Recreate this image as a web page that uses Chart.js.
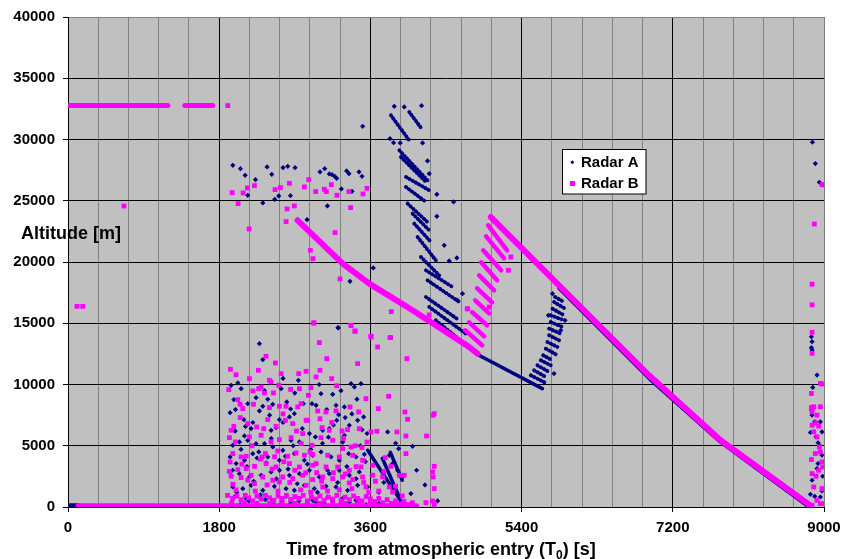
<!DOCTYPE html>
<html><head><meta charset="utf-8">
<script src="https://cdn.jsdelivr.net/npm/chart.js@4"></script>
<style>html,body{margin:0;padding:0;background:#fff}#wrap{width:853px;height:559px;position:relative}</style>
</head><body><div id="wrap"><canvas id="c"></canvas></div>
<script>
// ---------------- DATA ----------------
const seriesNames = ['Radar A', 'Radar B'];
const xMajorTicks = [0, 1800, 3600, 5400, 7200, 9000];
const yTickValues = [0, 5000, 10000, 15000, 20000, 25000, 30000, 35000, 40000];
const xTitleParts = ['Time from atmospheric entry (T', '0', ') [s]'];
const yTitle = 'Altitude [m]';

// Radar A scattered detections [time s, altitude m]
const radarA_points = [
 [1962,27894],[2053,27622],[2109,27078],[2232,26724],[2140,25445],[2319,24820],[2370,27758],[2426,27160],[2560,27704],[2616,27813],
 [2703,27704],[2509,25391],[2461,25119],[2648,25418],[2846,23459],[3000,27350],[3056,27622],[3111,27187],[3143,27132],[3175,26996],
 [3199,26833],[3088,24575],[3254,25962],[3317,27432],[3345,27214],[3381,25772],[3464,27350],[3500,26996],[3634,19514],[3357,18425],[3218,14616],
 [3884,32710],[4003,32656],[4209,32764],[3508,31077],[3833,30071],[4221,29717],[4280,28248],[4300,27214],[4391,25527],[4590,24901],
 [4391,23731],[4538,20085],[4629,20330],[4479,21363],[4697,17418],[4637,16874],[3876,29744],[3955,29717],
 [5786,10888],[5866,14425],[5917,15241],[5719,15649],[5767,17418],
 [2279,13336],[2319,12030],[3214,14642],[2743,10343],[1942,9935],[2022,10126],[2061,9663],[1974,8765],[2140,8438],[2239,8928],
 [1930,7704],[1994,7949],[2093,7132],[2113,6588],[2180,6398],[2279,7840],[2319,8221],[2378,8792],[2438,8384],[2537,9663],
 [2604,8575],[2517,7132],[2477,6479],[2418,6262],[2636,7350],[2695,7622],[2802,8438],[2905,8438],[2953,8302],[3012,9255],
 [3080,7949],[3151,9200],[3191,8302],[3222,7540],[3290,8166],[3369,10071],[3409,9799],[3488,10071],[3520,7350],[3448,7078],
 [3349,6670],[3290,5854],[3199,7078],[3111,6398],[3032,6262],[2945,5718],[2874,5990],[2755,5309],[2656,5445],[2557,4629],
 [2438,4901],[2339,5173],[2239,5173],[2140,5445],[2041,5309],[1962,5037],[1930,4085],[2002,3541],[2101,3813],[2200,4357],
 [2271,4493],[2378,4085],[2517,3813],[2588,4139],[2695,4357],[2814,3813],[2913,4221],[3012,4493],[3131,4085],[3230,3813],
 [3341,4357],[3428,4085],[3528,4302],[1942,2588],[2041,2724],[2160,2452],[2299,2588],[2418,2860],[2517,2996],[2636,2588],
 [2755,2724],[2874,2996],[2992,2452],[3111,2724],[3230,2996],[3349,2588],[3468,2860],[1962,1636],[2081,1500],[2180,1772],
 [2319,1364],[2457,1691],[2596,1500],[2695,1364],[2814,1772],[2933,1500],[3072,1691],[3191,1636],[3329,1364],[3448,1772],
 [3567,1636],[1982,820],[2121,684],[2279,820],[2438,548],[2596,874],[2755,684],[2913,548],[3092,820],[3270,684],[3428,548],
 [3805,6126],[3936,4765],[4102,4956],[4082,1092],[3825,4221],[3924,2996],[3983,2452],[3864,3541],
 [1990,6200],[2060,4700],[2130,3300],[2210,2100],[2290,1000],[2360,3600],[2420,5600],[2480,2300],[2560,6900],[2620,3100],
 [2680,5000],[2730,1900],[2790,6400],[2850,3500],[2890,4700],[2970,1200],[3030,5200],[3090,3000],[3160,6700],[3210,2000],
 [3270,5300],[3320,3300],[3380,7600],[3430,2300],[3480,5000],[3540,3700],[3560,6000],[2010,1200],[2200,6900],[2340,9500],
 [2560,10500],[2700,9300],[2990,10000],[3250,9500],[3440,8800],[1960,3000],[2100,5800],[2250,4000],[2400,7500],[2650,8000],
 [3100,5700],[3300,7300],[3500,6300],[3620,2600],[3700,1200],[3760,2000],[3900,5200],[4150,3000],[4250,1800],[4400,500],
 [1950,400],[2050,200],[2150,500],[2250,300],[2350,600],[2450,200],[2550,400],[2650,300],[2750,500],[2850,200],
 [2950,400],[3050,300],[3150,500],[3250,200],[3350,400],[3450,300],[3550,200],[3700,300],[3850,150],[4000,150],
 [8862,29780],[8897,28035],[8945,26510],[8850,13900],[8858,13500],[8850,13010],[8858,12820],[8917,10770],[8866,9760],[8850,7910],
 [8858,7500],[8890,6954],[8957,6954],[8976,6136],[8838,6081],[8905,5727],[8929,5236],[8945,5045],[8976,4227],[8929,3545],
 [8984,2509],[8858,2182],[8917,3136],[8838,1036],[8890,873],[8957,818],[8976,1309]
];

// Radar B scattered detections [time s, altitude m]
const radarB_points = [
 [107,16380],[175,16380],[666,24570],[1902,32767],
 [1954,25663],[2025,24765],[2085,25636],[2136,26044],[2220,26234],[2156,22697],[2465,25908],[2529,26071],[2636,26425],[2608,24330],
 [2695,24575],[2596,23296],[2814,26126],[2866,26724],[2949,25745],[3052,25935],[3076,25745],[3135,26316],[3202,25445],[3345,25745],
 [3365,24439],[3512,25554],[3559,26017],[3179,22398],[2885,20956],[2917,20275],[3238,18616],[2929,15024],[3369,14806],[3417,14371],
 [3607,13881],[3841,13827],[3849,15949],[4300,15677],[4752,16166],
 [5272,20408],[5243,19322],[5014,16327],[4756,16196],
 [1934,11241],[2267,11159],[2358,12302],[2469,11758],[2537,10887],[2160,10479],[2398,10343],[2418,10207],[2747,10887],[2834,11078],
 [2953,10615],[3000,11159],[2992,13418],[2925,15023],[3369,14833],[3417,14343],[3607,13935],[3833,13826],[3686,13064],[3448,11704],
 [3080,12112],[3139,10479],[4035,12112],[1914,9581],[2200,9472],[2271,9663],[2339,9309],[2446,9309],[2509,9935],[2755,9663],
 [2893,9744],[2862,9119],[2022,8765],[2049,8384],[2081,8030],[2208,8384],[2398,8112],[2517,8221],[2596,8221],[2735,8166],
 [2775,8438],[2834,7078],[2973,7840],[3072,7758],[3191,7840],[3357,8166],[3460,7758],[3547,8847],[3694,8030],[3817,9037],
 [4011,7758],[4043,7160],[1942,6262],[1974,6588],[2140,6806],[2247,6534],[2378,7132],[2477,6588],[2588,7078],[2675,6806],
 [2794,5990],[2854,7078],[3024,6479],[3111,6262],[3262,6207],[3329,6316],[3468,6398],[3607,6126],[3678,6180],[3916,6126],
 [4023,5799],[4269,5799],[4348,7486],[4360,7620],[1922,5663],[1994,5309],[2160,5718],[2299,5854],[2418,5309],[2517,5500],
 [2656,5663],[2775,5173],[2905,5037],[3012,5663],[3151,5445],[3270,4765],[3369,4901],[3500,4847],[1962,4357],[2061,4085],
 [2121,4139],[2311,4085],[2350,4357],[2497,4575],[2616,4139],[2715,4411],[2814,4221],[2913,4302],[2953,3541],[3092,4221],
 [3230,4085],[3389,4221],[3508,3813],[1930,3677],[2022,3051],[2121,3133],[2220,3323],[2358,3541],[2477,3269],[2636,3541],
 [2755,3269],[2913,3405],[3072,3269],[3210,3269],[3349,2996],[3488,3269],[3627,3405],[3777,4030],[3845,3323],[3944,2588],
 [4003,2588],[4023,4357],[4360,3323],[4348,2452],[4360,1500],[4340,2857],[4340,500],[4360,200],[4261,359],
 [1942,2507],[2061,2398],[2180,2588],[2319,2452],[2438,2180],[2557,2452],[2675,2316],[2794,2588],[2913,2235],[3032,2452],
 [3151,2316],[3270,2452],[3389,2235],[3508,2452],[3627,2588],[3745,2452],[1962,1854],[2220,1908],[2517,2044],[2834,1772],
 [3032,1636],[3349,1963],[3547,1636],[3825,1636],[3864,1228],
 [1920,2900],[2000,1400],[2070,3500],[2140,2200],[2230,1300],[2290,3900],[2370,1800],[2430,3100],[2500,1300],[2570,3700],
 [2640,2000],[2700,3000],[2770,1400],[2830,2800],[2890,1200],[2960,2800],[3020,2100],[3090,1300],[3160,2800],[3230,1400],
 [3300,2700],[3380,1500],[3430,3300],[3520,2000],[3580,1200],[3660,2100],[3700,1300],[3760,2900],[3900,1700],[3980,900],
 [2050,7300],[2190,5000],[2330,6400],[2460,4100],[2560,7600],[2720,6200],[2880,4500],[3000,7200],[3140,6900],[3280,5600],
 [3420,5000],[3560,5300],[2000,10800],[2300,9800],[2650,9600],[3200,9900],
 [1900,950],[1960,700],[2010,900],[2060,600],[2110,950],[2150,750],[2200,500],[2250,900],[2300,650],[2350,950],
 [2400,750],[2450,550],[2500,900],[2550,700],[2600,950],[2650,600],[2700,850],[2750,700],[2800,950],[2850,500],
 [2900,800],[2950,650],[3000,900],[3050,550],[3100,800],[3150,650],[3200,950],[3250,500],[3300,800],[3350,600],
 [3400,900],[3450,700],[3500,500],[3550,850],[3600,650],[3650,450],[3700,700],[3750,350],[3800,600],[3850,300],
 [3900,500],[3950,250],[4000,450],[4050,200],[4100,350],[1950,300],[2100,350],[2250,250],[2400,300],[2550,250],
 [2700,300],[2850,250],[3000,300],[3150,250],[3300,300],[3450,250],[3600,300],
 [8976,26320],[8996,26290],[8885,23100],[8858,18190],[8858,16500],[8858,14260],[8858,12545],[8957,10090],[8976,10035],[8850,9270],
 [8850,8127],[8878,8181],[8957,8181],[8858,7772],[8917,7500],[8858,6681],[8905,6872],[8937,6600],[8878,6136],[8917,5727],
 [8945,4909],[8850,3872],[8897,4363],[8957,4500],[8976,3681],[8858,2727],[8905,2509],[8937,3000],[8984,3272],[8878,1636],
 [8976,1500],[8917,545],[8957,273],[8996,273],[8858,136]
];

// Continuous runs of detections (polylines of [time, altitude])
const radarA_baseline = [[[0,100],[120,100]]];
const radarA_tracks = [
 [[4600,13950],[4875,12450],[5647,9665]],
 [[5846,17850],[6916,10500],[7768,5300],[8820,0]],
 [[3568,4629],[3983,278]],[[3742,3976],[3945,792]],[[3837,4465],[3979,2180]]
];
const radarA_stripes = [
 [[3844,31975],[4062,29935]],[[4062,32247],[4201,30968]],[[3944,29118],[4280,26669]],[[3963,28574],[4261,26533]],
 [[4023,26941],[4300,25853]],[[4023,26125],[4261,24901]],[[4043,24765],[4300,23132]],[[4102,23948],[4300,22588]],
 [[4122,23132],[4320,21635]],[[4162,22044],[4379,20139]],[[4201,20411],[4419,18914]],[[4261,19323],[4578,17962]],
 [[4280,18506],[4657,16738]],[[4261,17146],[4657,15241]],[[4300,16330],[4736,14153]],[[4379,15241],[4815,12792]],
 [[5509,10752],[5687,10126]],[[5549,11160],[5687,10616]],[[5588,11568],[5727,11024]],[[5628,11976],[5747,11568]],
 [[5656,12384],[5767,11976]],[[5687,12929],[5806,12466]],[[5707,13473],[5826,13065]],[[5727,14017],[5846,13609]],
 [[5727,14561],[5866,14153]],[[5747,15105],[5885,14697]],[[5747,15649],[5905,15241]],[[5767,16193],[5905,15649]],
 [[5786,16738],[5917,16193]],[[5798,17146],[5905,16738]]
];
const radarB_topline = [[[0,32767],[1189,32767]],[[1390,32767],[1724,32767]]];
const radarB_baseline = [[[120,100],[4150,100]]];
const radarB_tracks = [
 [[2734,23404],[3270,19869],[3587,18237],[4102,16057],[4776,13061],[4875,12522]],
 [[5034,23673],[6916,10751],[7768,5445],[8840,100]]
];
const radarB_stripes = [
 [[5002,22996],[5228,20955]],[[4978,22098],[5192,20302]],[[4943,20955],[5157,19322]],[[4919,19976],[5109,18506]],
 [[4895,18914],[5073,17690]],[[4871,17853],[5049,16710]],[[4848,16873],[5014,15812]],[[4812,15894],[4990,14833]],
 [[4776,15078],[4955,13935]],[[4729,14425],[4931,13200]]
];

// ---------------- CHART ----------------
const NAVY = '#000080', MAGENTA = '#FF00FF';
const FONT = '"Liberation Sans", Arial, Helvetica, sans-serif';
const toXY = arr => arr.map(p => ({x: p[0], y: p[1]}));
const datasets = [];
function addLines(polys, color, width, order, dash) {
  polys.forEach(poly => datasets.push({
    data: toXY(poly), showLine: true, pointRadius: 0, borderColor: color,
    borderWidth: width, borderCapStyle: 'round', borderJoinStyle: 'round', fill: false, order: order,
    borderDash: dash || []
  }));
}
datasets.push({label: seriesNames[1], data: toXY(radarB_points), pointStyle: 'rect', pointRadius: 3.4,
  backgroundColor: MAGENTA, borderWidth: 0, order: 0});
addLines(radarB_topline, MAGENTA, 5, 0);
addLines(radarB_baseline, MAGENTA, 5, 0);
addLines(radarB_tracks, MAGENTA, 6, 0);
addLines(radarB_stripes, MAGENTA, 4.5, 0);
datasets.push({label: seriesNames[0], data: toXY(radarA_points), pointStyle: 'rectRot', pointRadius: 2.6,
  backgroundColor: NAVY, borderWidth: 0, order: 1});
addLines(radarA_baseline, NAVY, 5, 1);
addLines(radarA_tracks, NAVY, 3.5, 1);
addLines(radarA_stripes, NAVY, 3.8, 1, [0.5, 3.2]);

const decor = {
  id: 'decor',
  beforeDraw(chart) {
    const {ctx, chartArea: a} = chart;
    ctx.save();
    ctx.fillStyle = '#C0C0C0';
    ctx.fillRect(a.left, a.top, a.right - a.left, a.bottom - a.top);
    ctx.restore();
  },
  afterDraw(chart) {
    const {ctx} = chart;
    ctx.save();
    ctx.fillStyle = '#000';
    ctx.textBaseline = 'alphabetic';
    ctx.font = 'bold 18px ' + FONT;
    ctx.textAlign = 'left';
    ctx.fillText(yTitle, 21, 239);
    const big = 'bold 18px ' + FONT, small = 'bold 12px ' + FONT;
    ctx.font = big; const w1 = ctx.measureText(xTitleParts[0]).width;
    ctx.font = small; const w2 = ctx.measureText(xTitleParts[1]).width;
    ctx.font = big; const w3 = ctx.measureText(xTitleParts[2]).width;
    let x = 441 - (w1 + w2 + w3) / 2;
    const by = 555;
    ctx.font = big; ctx.fillText(xTitleParts[0], x, by); x += w1;
    ctx.font = small; ctx.fillText(xTitleParts[1], x, by + 4); x += w2;
    ctx.font = big; ctx.fillText(xTitleParts[2], x, by);
    const L = 562.5, T = 149.5, W = 83.5, H = 44.5;
    ctx.fillStyle = '#fff'; ctx.fillRect(L, T, W, H);
    ctx.strokeStyle = '#000'; ctx.lineWidth = 1; ctx.strokeRect(L, T, W, H);
    ctx.fillStyle = NAVY;
    ctx.beginPath(); ctx.moveTo(572.3, 160.3); ctx.lineTo(574.3, 162.3); ctx.lineTo(572.3, 164.3); ctx.lineTo(570.3, 162.3); ctx.closePath(); ctx.fill();
    ctx.fillStyle = MAGENTA; ctx.fillRect(570, 181, 5, 5);
    ctx.fillStyle = '#000'; ctx.font = 'bold 15px ' + FONT; ctx.textBaseline = 'middle';
    ctx.fillText(seriesNames[0], 581, 163);
    ctx.fillText(seriesNames[1], 581, 183.5);
    ctx.restore();
  }
};

new Chart(document.getElementById('c'), {
  type: 'scatter',
  data: {datasets},
  options: {
    responsive: true, maintainAspectRatio: false, animation: false, devicePixelRatio: 1,
    layout: {padding: {top: 16, right: 29, left: 0, bottom: 0}},
    plugins: {legend: {display: false}, tooltip: {enabled: false}},
    events: [],
    scales: {
      x: {
        type: 'linear', min: 0, max: 9000, position: 'bottom',
        ticks: {stepSize: 360, autoSkip: false, maxRotation: 0, minRotation: 0, color: '#000', padding: 7,
          font: {family: FONT, size: 15, weight: 'bold'},
          callback: v => xMajorTicks.includes(v) ? String(v) : ''},
        grid: {
          color: c => (c.tick && c.tick.value === 9000) ? '#808080' : (c.tick && xMajorTicks.includes(c.tick.value) ? '#000' : '#808080'),
          tickColor: c => (c.tick && xMajorTicks.includes(c.tick.value)) ? '#000' : 'rgba(0,0,0,0)',
          tickLength: 5, lineWidth: 1
        },
        border: {color: '#000', width: 1},
        afterFit: s => { s.height = 52; }
      },
      y: {
        type: 'linear', min: 0, max: 40000,
        ticks: {stepSize: 5000, color: '#000', padding: 8, font: {family: FONT, size: 15, weight: 'bold'},
          callback: v => yTickValues.includes(v) ? String(v) : ''},
        grid: {color: c => (c.tick && c.tick.value === 40000) ? '#808080' : '#000', tickColor: '#000', tickLength: 5, lineWidth: 1},
        border: {color: '#000', width: 1},
        afterFit: s => { s.width = 68; }
      }
    }
  },
  plugins: [decor]
});
</script>
</body></html>
